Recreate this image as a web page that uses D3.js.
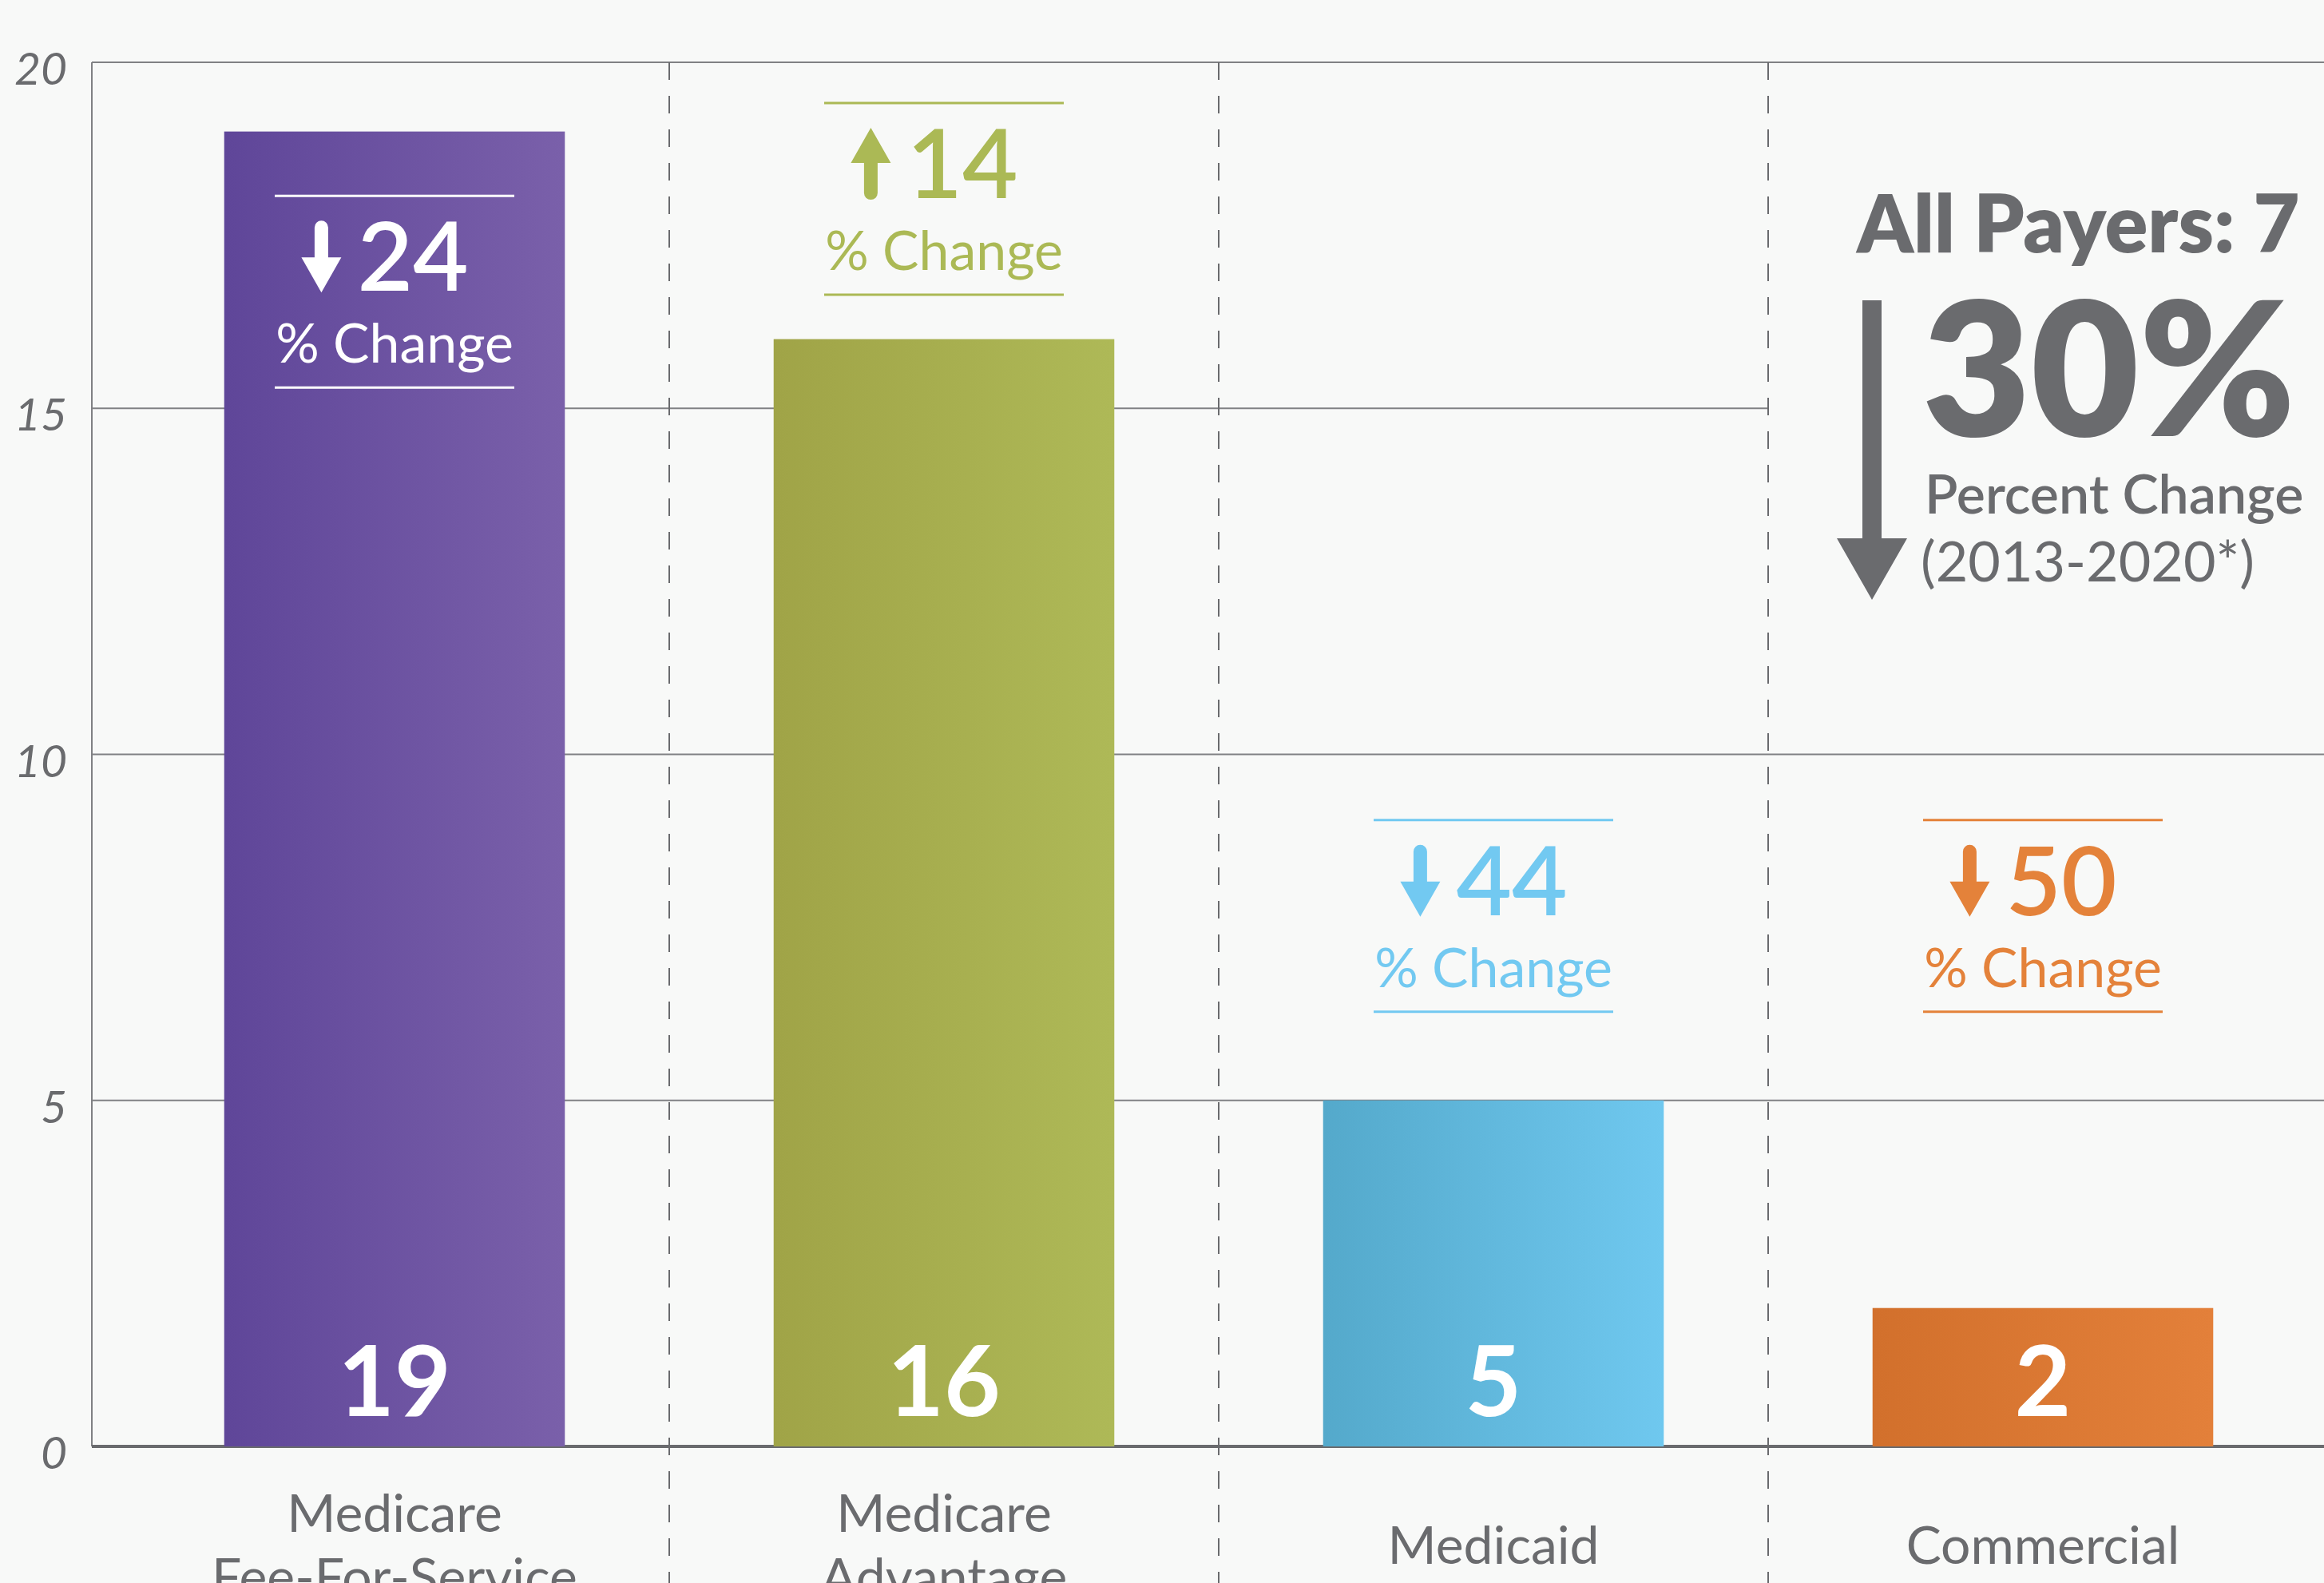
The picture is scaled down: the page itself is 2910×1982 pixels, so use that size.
<!DOCTYPE html>
<html>
<head>
<meta charset="utf-8">
<script src="https://cdn.jsdelivr.net/npm/d3@7"></script>
<style>
  html, body { margin: 0; padding: 0; background: #f8f9f8; }
  svg { display: block; }
  text { font-family: Lato, "Open Sans", sans-serif; }
</style>
</head>
<body>
<div id="chart"></div>
<script>
// values
const categories = ["Medicare Fee-For-Service", "Medicare Advantage", "Medicaid", "Commercial"];
const categoryLines = [["Medicare", "Fee-For-Service"], ["Medicare", "Advantage"], ["Medicaid"], ["Commercial"]];
const values = [19, 16, 5, 2];
const pctChange = [-24, 14, -44, -50];
const yTicks = [0, 5, 10, 15, 20];
const allPayersValue = 7;
const allPayersChange = -30;
const periodLabel = "(2013-2020*)";

// styling
const gradients = [["#5f4699", "#7a60aa"], ["#a0a447", "#aeb957"], ["#54a9cb", "#6fc8ef"], ["#d2702c", "#e3803a"]];
const noteColors = ["#ffffff", "#abb955", "#72c9f1", "#e4823a"];
// top of each "% change" box, in value units
const noteTop = [18.07, 19.41, 9.05, 9.05];
const grey = "#6a6b6e";

const W = 2910, H = 1982;
const svg = d3.select("#chart").append("svg")
  .attr("width", W)
  .attr("height", H);

svg.append("rect").attr("width", W).attr("height", H).attr("fill", "#f8f9f8");

const y = d3.scaleLinear().domain([0, 20]).range([1811, 78]);
const x = d3.scaleBand().domain(categories).range([150, 2902])
  .paddingInner(0.38).paddingOuter(0.19);

const defs = svg.append("defs");
gradients.forEach((g, i) => {
  const lg = defs.append("linearGradient").attr("id", `grad${i}`)
    .attr("x1", "0%").attr("x2", "100%").attr("y1", "0%").attr("y2", "0%");
  lg.append("stop").attr("offset", "0%").attr("stop-color", g[0]);
  lg.append("stop").attr("offset", "100%").attr("stop-color", g[1]);
});

// gridlines (15 stops at the last separator, the summary sits there)
const lastSep = x(categories[3]) - x.step() * x.paddingInner() / 2;
svg.selectAll(".grid")
  .data(yTicks.filter((d) => d > 0))
  .enter()
  .append("line")
  .attr("class", "grid")
  .attr("x1", 115)
  .attr("x2", (d) => d === 15 ? lastSep : W)
  .attr("y1", (d) => y(d))
  .attr("y2", (d) => y(d))
  .attr("stroke", "#808184")
  .attr("stroke-width", 2);

// dashed separators between categories
svg.selectAll(".sep")
  .data(categories.slice(1))
  .enter()
  .append("line")
  .attr("x1", (d) => x(d) - x.step() * x.paddingInner() / 2)
  .attr("x2", (d) => x(d) - x.step() * x.paddingInner() / 2)
  .attr("y1", y(20))
  .attr("y2", H)
  .attr("stroke", grey)
  .attr("stroke-width", 2)
  .attr("stroke-dasharray", "22 20");

// y axis line + baseline
svg.append("line")
  .attr("x1", 115).attr("x2", 115)
  .attr("y1", y(20)).attr("y2", y(0))
  .attr("stroke", "#808184").attr("stroke-width", 2);
svg.append("line")
  .attr("x1", 115).attr("x2", W)
  .attr("y1", y(0)).attr("y2", y(0))
  .attr("stroke", grey).attr("stroke-width", 4);

svg.selectAll(".ytick")
  .data(yTicks)
  .enter()
  .append("text")
  .attr("x", 84)
  .attr("y", (d) => y(d) + 28)
  .attr("text-anchor", "end")
  .attr("font-size", 57)
  .attr("font-style", "italic")
  .attr("font-weight", 400)
  .attr("fill", grey)
  .text((d) => d);

// bars
const bars = categories.map((c, i) => ({ cat: c, value: values[i], i }));
svg.selectAll(".bar")
  .data(bars)
  .enter()
  .append("rect")
  .attr("x", (d) => x(d.cat))
  .attr("width", x.bandwidth())
  .attr("y", (d) => y(d.value))
  .attr("height", (d) => y(0) - y(d.value))
  .attr("fill", (d) => `url(#grad${d.i})`);

svg.selectAll(".val")
  .data(bars)
  .enter()
  .append("text")
  .attr("x", (d) => x(d.cat) + x.bandwidth() / 2)
  .attr("y", y(0) - 38)
  .attr("text-anchor", "middle")
  .attr("font-size", 122)
  .attr("font-weight", 700)
  .attr("fill", "#fff")
  .text((d) => d.value);

// category labels
bars.forEach((d) => {
  const lines = categoryLines[d.i];
  const t = svg.append("text")
    .attr("text-anchor", "middle")
    .attr("font-size", 66)
    .attr("fill", grey);
  lines.forEach((ln, k) => {
    t.append("tspan")
      .attr("x", x(d.cat) + x.bandwidth() / 2)
      .attr("y", 1958 + (k - (lines.length - 1) / 2) * 80)
      .text(ln);
  });
});

// arrow path: tip at (0, len) pointing down, tail at 0
function arrowPath(len, shaft, headW, headL) {
  const s = shaft / 2, h = headW / 2;
  return `M ${-s} ${s} A ${s} ${s} 0 0 1 ${s} ${s} L ${s} ${len - headL} L ${h} ${len - headL}` +
    ` L 0 ${len} L ${-h} ${len - headL} L ${-s} ${len - headL} Z`;
}

// "% change" boxes
bars.forEach((d) => {
  const col = noteColors[d.i];
  const cx = x(d.cat) + x.bandwidth() / 2;
  const top = y(noteTop[d.i]);
  const g = svg.append("g");
  [0, 240].forEach((dy) => {
    g.append("line")
      .attr("x1", cx - 150).attr("x2", cx + 150)
      .attr("y1", top + dy).attr("y2", top + dy)
      .attr("stroke", col).attr("stroke-width", 3);
  });
  const num = g.append("text")
    .attr("y", top + 119)
    .attr("font-size", 120)
    .attr("font-weight", 600)
    .attr("fill", col)
    .text(Math.abs(pctChange[d.i]));
  const nw = num.node().getComputedTextLength();
  const groupW = 50 + 20 + nw;
  const left = cx - 12 - groupW / 2;
  num.attr("x", left + 70);
  const up = pctChange[d.i] > 0;
  g.append("path")
    .attr("d", arrowPath(90, 17, 50, 44))
    .attr("transform", up
      ? `translate(${left + 25}, ${top + 121}) scale(1,-1)`
      : `translate(${left + 25}, ${top + 31})`)
    .attr("fill", col);
  g.append("text")
    .attr("x", cx)
    .attr("y", top + 209)
    .attr("text-anchor", "middle")
    .attr("font-size", 68)
    .attr("fill", col)
    .text("% Change");
});

// all payers summary
const ap = svg.append("g").attr("fill", grey);
ap.append("text")
  .attr("x", 2325).attr("y", 316)
  .attr("font-size", 100)
  .attr("font-weight", 800)
  .text(`All Payers: ${allPayersValue}`);
ap.append("text")
  .attr("x", 2407).attr("y", 546)
  .attr("font-size", 234)
  .attr("font-weight", 800)
  .text(`${Math.abs(allPayersChange)}%`);
ap.append("text")
  .attr("x", 2410).attr("y", 643)
  .attr("font-size", 68)
  .attr("font-weight", 600)
  .text("Percent Change");
ap.append("text")
  .attr("x", 2405).attr("y", 728)
  .attr("font-size", 70)
  .text(periodLabel);
ap.append("path")
  .attr("d", "M 2332 376 L 2356 376 L 2356 674 L 2388 674 L 2344 751 L 2300 674 L 2332 674 Z")
  .attr("fill", grey);
</script>
</body>
</html>
